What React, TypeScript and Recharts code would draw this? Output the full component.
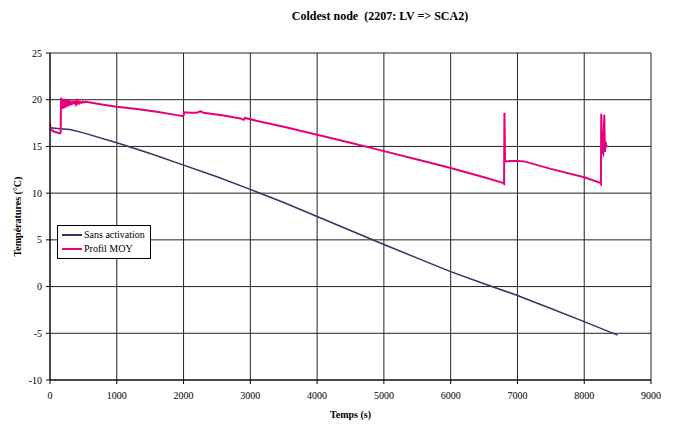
import React from 'react';
import { LineChart, Line, XAxis, YAxis, CartesianGrid } from 'recharts';

const xTicks = [0, 1000, 2000, 3000, 4000, 5000, 6000, 7000, 8000, 9000];
const yTicks = [-10, -5, 0, 5, 10, 15, 20, 25];

// Sans activation: [time (s), temperature (°C)]
const sansActivation: [number, number][] = [
  [0, 17.0], [150, 16.9], [300, 16.8], [500, 16.45], [1000, 15.4], [1500, 14.25],
  [2000, 13.0], [2500, 11.75], [3000, 10.4], [3500, 9.0], [4000, 7.5], [4500, 6.0],
  [5000, 4.5], [5500, 3.05], [6000, 1.6], [6500, 0.3], [7000, -0.95], [7500, -2.35],
  [8000, -3.75], [8500, -5.2],
];

// Profil MOY
const profilMoy: [number, number][] = [
  [0, 17.5], [10, 16.8], [60, 16.6], [150, 16.4], [160, 16.5],
  [165, 20.2], [172, 19.0], [180, 20.1], [187, 19.0], [195, 20.1], [202, 19.1],
  [210, 20.1], [217, 19.1], [225, 20.0], [232, 19.2], [240, 20.0], [247, 19.2],
  [255, 20.0], [262, 19.3], [270, 19.95], [277, 19.3], [285, 19.95], [292, 19.4],
  [300, 19.9], [307, 19.4], [315, 19.9], [322, 19.45], [330, 19.9], [337, 19.5],
  [345, 19.9], [352, 19.5], [360, 19.9], [367, 19.55], [375, 19.9], [385, 19.6],
  [395, 19.85], [405, 19.6], [420, 19.85], [435, 19.6], [450, 19.8], [470, 19.65],
  [490, 19.8], [510, 19.7], [530, 19.8], [560, 19.75], [600, 19.7], [800, 19.45],
  [1000, 19.25], [1300, 19.0], [1600, 18.7], [1900, 18.35], [1980, 18.25], [2000, 18.3],
  [2010, 18.65], [2100, 18.6], [2200, 18.6], [2250, 18.75], [2300, 18.6], [2600, 18.3],
  [2850, 18.0], [2900, 17.85], [2920, 18.05], [3000, 17.9], [3500, 17.1], [4000, 16.25],
  [4500, 15.4], [5000, 14.5], [5500, 13.6], [6000, 12.7], [6500, 11.7], [6780, 11.1],
  [6800, 11.0], [6805, 18.6], [6815, 13.4], [6900, 13.45], [7000, 13.45], [7100, 13.4],
  [7500, 12.6], [8000, 11.7], [8240, 11.1], [8250, 11.0], [8255, 18.5], [8270, 14.4],
  [8285, 14.2], [8300, 18.4], [8310, 14.4], [8320, 15.5], [8335, 14.9],
];

const toRows = (pts: [number, number][]) => pts.map(([t, v]) => ({ t, v }));

const serif = '"Liberation Serif", "Times New Roman", serif';

const LegendBox = () => (
  <div
    style={{
      position: 'absolute',
      left: 57,
      top: 225,
      border: '1px solid #000',
      background: '#fff',
      padding: '2px 5px 2px 4px',
      fontFamily: serif,
      fontSize: 10,
      lineHeight: '14px',
      color: '#000',
      zIndex: 2,
    }}
  >
    <div style={{ display: 'flex', alignItems: 'center' }}>
      <span style={{ display: 'inline-block', width: 20, height: 2, background: '#333366', marginRight: 2 }} />
      Sans activation
    </div>
    <div style={{ display: 'flex', alignItems: 'center' }}>
      <span style={{ display: 'inline-block', width: 20, height: 2, background: '#e6007e', marginRight: 2 }} />
      Profil MOY
    </div>
  </div>
);

export default function App() {
  return (
    <div style={{ position: 'absolute', left: 0, top: 0, width: 674, height: 424, background: '#fff', fontFamily: serif }}>
      <div
        style={{
          position: 'absolute',
          left: 0,
          width: 760,
          top: 9,
          textAlign: 'center',
          fontWeight: 'bold',
          fontSize: 12,
          whiteSpace: 'pre',
        }}
      >
        {'Coldest node  (2207: LV => SCA2)'}
      </div>
      <LineChart
        width={674}
        height={424}
        margin={{ top: 53, right: 23, bottom: 6, left: 0 }}
        style={{ fontFamily: serif }}
      >
        <CartesianGrid stroke="#222" strokeWidth={1} />
        <XAxis
          type="number"
          dataKey="t"
          domain={[0, 9000]}
          ticks={xTicks}
          allowDataOverflow
          height={38}
          stroke="#000"
          tickSize={4}
          tickMargin={8}
          tick={{ fill: '#000', fontSize: 10, fontFamily: serif }}
          label={{ value: 'Temps (s)', position: 'insideBottom', offset: 0, fill: '#000', fontSize: 10, fontWeight: 'bold', fontFamily: serif }}
        />
        <YAxis
          type="number"
          domain={[-10, 25]}
          ticks={yTicks}
          width={50}
          stroke="#000"
          tickSize={4}
          tickMargin={4}
          tick={{ fill: '#000', fontSize: 10, fontFamily: serif }}
          label={{ value: 'Températures (°C)', angle: -90, position: 'insideLeft', offset: 17, fill: '#000', fontSize: 10, fontWeight: 'bold', fontFamily: serif, style: { textAnchor: 'middle' } }}
        />
        <Line
          data={toRows(sansActivation)}
          dataKey="v"
          type="linear"
          stroke="#333366"
          strokeWidth={1.5}
          dot={false}
          isAnimationActive={false}
          name="Sans activation"
        />
        <Line
          data={toRows(profilMoy)}
          dataKey="v"
          type="linear"
          stroke="#e6007e"
          strokeWidth={2}
          dot={false}
          isAnimationActive={false}
          name="Profil MOY"
        />
      </LineChart>
      <LegendBox />
    </div>
  );
}
